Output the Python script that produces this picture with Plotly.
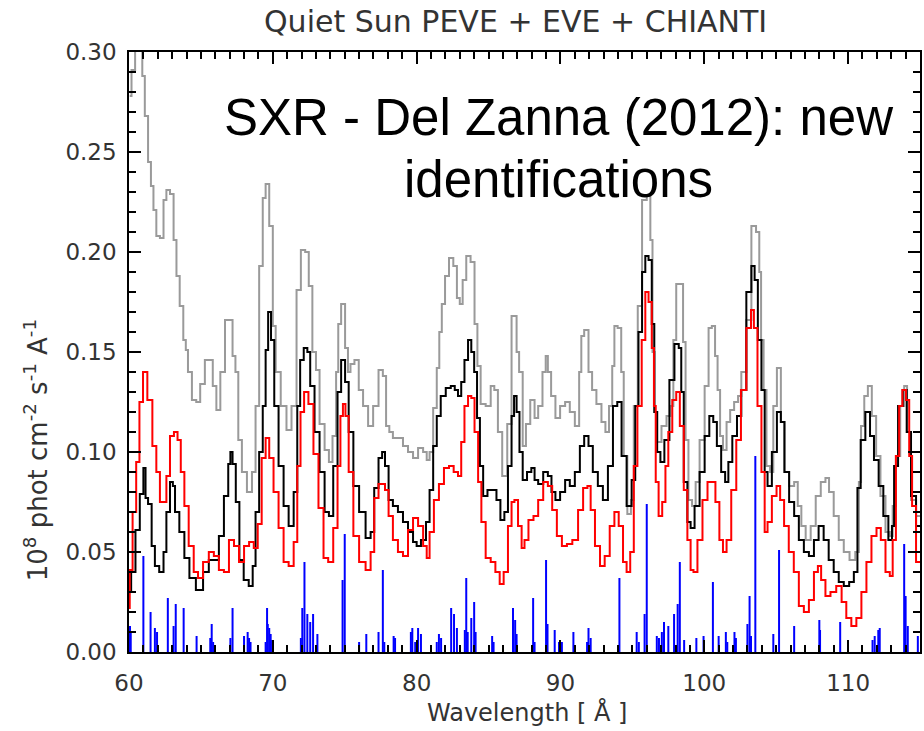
import plotly.graph_objects as go

# ---- data ----
gray_x = [60.05, 60.3, 60.55, 60.85, 61.0, 61.2, 61.45, 61.6, 61.8, 62.0, 62.3, 62.5, 62.7, 63.0, 63.2, 63.4, 63.65, 63.9,
          64.0, 64.2, 64.55, 64.8, 65.1, 65.45, 65.7, 65.95, 66.2, 66.5, 66.85, 67.1, 67.3, 67.5, 67.7, 68.0, 68.4, 68.7,
          68.9, 69.2, 69.4, 69.6, 69.9, 70.1, 70.3, 70.8, 71.1, 71.5, 71.8, 72.1, 72.4, 72.6, 72.9, 73.1, 73.4, 73.8,
          74.0, 74.3, 74.5, 74.6, 74.9, 75.15, 75.3, 75.5, 75.85, 76.1, 76.45, 76.8, 77.15, 77.55, 77.75, 78.0, 78.2,
          78.5, 78.9, 79.2, 79.6, 79.9, 80.3, 80.6, 80.8, 81.0, 81.3, 81.5, 81.65, 81.85, 82.1, 82.4, 82.7, 82.9, 83.1,
          83.3, 83.6, 83.9, 84.15, 84.3, 84.6, 85.0, 85.3, 85.5, 85.8, 86.1, 86.5, 86.7, 86.9, 87.0, 87.25, 87.5, 87.7,
          88.1, 88.3, 88.6, 88.9, 89.05, 89.2, 89.5, 89.8, 90.15, 90.5, 90.8, 91.2, 91.4, 91.5, 91.8, 92.1, 92.3, 92.7,
          93.0, 93.25, 93.5, 93.7, 93.8, 94.15, 94.3, 94.5, 94.8, 95.0, 95.2, 95.55, 95.8, 96.2, 96.3, 96.5, 96.6, 96.85,
          97.2, 97.55, 97.75, 97.95, 98.15, 98.45, 98.6, 98.8, 99.0, 99.3, 99.5, 99.85, 100.2, 100.4, 100.65, 100.85,
          101.0, 101.2, 101.4, 101.7, 101.9, 102.25, 102.45, 102.7, 103.15, 103.4, 103.8, 103.85, 104.05, 104.2, 104.45,
          104.7, 104.9, 105.2, 105.45, 105.7, 106.1, 106.4, 106.6, 106.9, 107.2, 107.6, 107.9, 108.3, 108.55, 108.8,
          109.2, 109.5, 109.9, 110.3, 110.7, 110.8, 111.0, 111.25, 111.5, 111.8, 112.1, 112.4, 112.8, 113.0, 113.2,
          113.45, 113.8, 114.0, 114.2, 114.55, 114.9, 115.0]
gray_y = [0.278, 0.291, 0.305, 0.305, 0.288, 0.268, 0.245, 0.233, 0.221, 0.208, 0.207, 0.226, 0.231, 0.229, 0.206, 0.188, 0.173, 0.156,
          0.151, 0.140, 0.126, 0.125, 0.134, 0.146, 0.146, 0.133, 0.121, 0.140, 0.166, 0.166, 0.148, 0.140, 0.106, 0.090, 0.080, 0.090,
          0.123, 0.193, 0.227, 0.234, 0.213, 0.163, 0.140, 0.123, 0.111, 0.123, 0.181, 0.201, 0.200, 0.183, 0.150, 0.141, 0.114, 0.101,
          0.095, 0.108, 0.140, 0.164, 0.174, 0.152, 0.140, 0.144, 0.146, 0.131, 0.123, 0.113, 0.123, 0.141, 0.138, 0.113, 0.110,
          0.107, 0.107, 0.103, 0.100, 0.097, 0.102, 0.100, 0.096, 0.100, 0.122, 0.142, 0.160, 0.174, 0.188, 0.197, 0.193, 0.177, 0.174,
          0.186, 0.198, 0.195, 0.164, 0.143, 0.124, 0.123, 0.133, 0.131, 0.110, 0.088, 0.114, 0.168, 0.168, 0.150, 0.140, 0.103, 0.114,
          0.126, 0.117, 0.123, 0.140, 0.148, 0.140, 0.128, 0.117, 0.123, 0.125, 0.120, 0.113, 0.140, 0.158, 0.161, 0.140, 0.131, 0.124,
          0.115, 0.110, 0.123, 0.143, 0.163, 0.162, 0.140, 0.098, 0.069, 0.076, 0.123, 0.173, 0.226, 0.228, 0.206, 0.150, 0.120, 0.105,
          0.113, 0.118, 0.123, 0.156, 0.184, 0.184, 0.155, 0.106, 0.076, 0.073, 0.085, 0.106, 0.133, 0.162, 0.163, 0.148,
          0.131, 0.108, 0.101, 0.115, 0.121, 0.125, 0.128, 0.140, 0.166, 0.213, 0.210, 0.190, 0.156, 0.131, 0.093,
          0.090, 0.123, 0.142, 0.115, 0.090, 0.083, 0.085, 0.073, 0.063, 0.056, 0.063, 0.078, 0.085, 0.087, 0.080,
          0.068, 0.056, 0.050, 0.046, 0.050, 0.085, 0.113, 0.128, 0.133, 0.118, 0.098, 0.078, 0.060, 0.058, 0.073,
          0.098, 0.123, 0.133, 0.110, 0.076, 0.068, 0.068]

black_x = [60.0, 60.3, 60.6, 60.9, 61.1, 61.2, 61.45, 61.7, 61.9, 62.3, 62.5, 62.7, 63.0, 63.1, 63.3, 63.7, 64.0, 64.4, 64.9,
           65.4, 65.7, 66.1, 66.4, 66.8, 67.0, 67.1, 67.3, 67.55, 67.8, 68.15, 68.5, 68.7, 68.9, 69.2, 69.4, 69.6, 69.75,
           70.0, 70.2, 70.6, 70.9, 71.3, 71.6, 71.8, 72.0, 72.3, 72.5, 72.7, 73.1, 73.4, 73.8, 74.0, 74.4, 74.6, 74.9,
           75.15, 75.4, 75.8, 76.2, 76.7, 76.9, 77.2, 77.5, 77.7, 77.9, 78.2, 78.5, 78.9, 79.2, 79.6, 79.9, 80.1, 80.5,
           80.8, 81.0, 81.3, 81.5, 81.85, 82.2, 82.55, 82.75, 83.0, 83.2, 83.45, 83.7, 83.9, 84.1, 84.3, 84.5, 84.75,
           85.1, 85.45, 85.65, 86.0, 86.2, 86.5, 86.7, 86.85, 87.05, 87.25, 87.5, 87.85, 88.1, 88.3, 88.6, 89.0, 89.25,
           89.5, 89.8, 90.15, 90.5, 90.8, 91.2, 91.5, 91.8, 92.1, 92.4, 92.8, 93.1, 93.5, 93.8, 94.1, 94.4, 94.8, 95.1,
           95.3, 95.55, 95.8, 96.0, 96.25, 96.45, 96.6, 96.85, 97.05, 97.4, 97.75, 98.1, 98.35, 98.45, 98.7, 98.95, 99.15,
           99.5, 99.85, 100.2, 100.5, 100.75, 101.0, 101.35, 101.55, 101.8, 102.1, 102.45, 102.7, 103.15, 103.4, 103.6,
           103.85, 104.1, 104.3, 104.5, 104.9, 105.2, 105.45, 105.7, 106.1, 106.4, 106.75, 107.1, 107.45, 107.8, 108.1,
           108.5, 108.8, 109.2, 109.5, 109.9, 110.25, 110.55, 110.75, 111.0, 111.4, 111.65, 111.95, 112.3, 112.6, 113.0,
           113.1, 113.3, 113.65, 113.95, 114.2, 114.55, 114.9, 115.0]
black_y = [0.030, 0.040, 0.061, 0.079, 0.092, 0.077, 0.074, 0.053, 0.043, 0.040, 0.050, 0.070, 0.085, 0.083, 0.070, 0.060, 0.047, 0.037, 0.031,
           0.040, 0.046, 0.046, 0.058, 0.078, 0.094, 0.100, 0.094, 0.075, 0.046, 0.036, 0.033, 0.043, 0.070, 0.100, 0.123, 0.151, 0.170,
           0.156, 0.123, 0.093, 0.073, 0.063, 0.080, 0.123, 0.146, 0.152, 0.150, 0.133, 0.110, 0.090, 0.070, 0.068, 0.093, 0.130, 0.146,
           0.135, 0.110, 0.083, 0.070, 0.057, 0.060, 0.082, 0.097, 0.100, 0.093, 0.076, 0.073, 0.070, 0.065, 0.060, 0.055, 0.053, 0.056,
           0.065, 0.081, 0.103, 0.118, 0.128, 0.132, 0.133, 0.131, 0.128, 0.135, 0.146, 0.156, 0.150, 0.140, 0.117, 0.093, 0.078,
           0.081, 0.081, 0.076, 0.066, 0.070, 0.093, 0.118, 0.128, 0.120, 0.100, 0.086, 0.090, 0.092, 0.086, 0.084, 0.090, 0.088,
           0.080, 0.076, 0.080, 0.086, 0.083, 0.090, 0.103, 0.108, 0.103, 0.090, 0.083, 0.076, 0.093, 0.123, 0.125, 0.098, 0.073, 0.086,
           0.123, 0.160, 0.190, 0.198, 0.196, 0.164, 0.120, 0.100, 0.095, 0.106, 0.136, 0.154, 0.152, 0.130, 0.085, 0.065, 0.062,
           0.073, 0.090, 0.108, 0.118, 0.115, 0.103, 0.090, 0.085, 0.095, 0.108, 0.118, 0.131, 0.180, 0.193, 0.186,
           0.156, 0.131, 0.090, 0.083, 0.100, 0.120, 0.115, 0.090, 0.075, 0.068, 0.056, 0.050, 0.048, 0.056, 0.063,
           0.056, 0.046, 0.040, 0.035, 0.033, 0.035, 0.040, 0.082, 0.106, 0.120, 0.108, 0.096, 0.083, 0.068, 0.056,
           0.063, 0.093, 0.123, 0.131, 0.110, 0.078, 0.063, 0.063]

red_x = [60.0, 60.1, 60.4, 60.6, 60.85, 61.1, 61.45, 61.8, 62.0, 62.3, 62.5, 62.7, 63.0, 63.25, 63.5, 63.7, 64.0, 64.3, 64.7,
         64.9, 65.4, 65.7, 66.1, 66.4, 66.8, 67.1, 67.5, 67.8, 68.2, 68.5, 68.85, 69.05, 69.4, 69.6, 69.9, 70.2, 70.6,
         70.9, 71.3, 71.6, 71.8, 72.05, 72.3, 72.65, 73.0, 73.35, 73.7, 74.0, 74.4, 74.6, 74.8, 74.95, 75.15, 75.4, 75.8,
         76.2, 76.7, 76.9, 77.2, 77.5, 77.7, 77.9, 78.2, 78.5, 78.9, 79.2, 79.6, 79.9, 80.3, 80.6, 80.8, 81.0, 81.4, 81.7,
         82.1, 82.4, 82.75, 83.0, 83.2, 83.45, 83.7, 83.9, 84.15, 84.4, 84.6, 85.0, 85.3, 85.65, 85.9, 86.2, 86.5, 86.7,
         86.9, 87.2, 87.4, 87.6, 87.95, 88.3, 88.6, 89.0, 89.25, 89.6, 89.9, 90.3, 90.6, 91.05, 91.4, 91.75, 92.0, 92.2,
         92.6, 92.9, 93.25, 93.6, 93.9, 94.2, 94.5, 94.7, 95.0, 95.2, 95.5, 95.8, 96.0, 96.25, 96.45, 96.55, 96.7, 96.95,
         97.2, 97.4, 97.6, 97.95, 98.15, 98.45, 98.7, 98.95, 99.15, 99.35, 99.7, 100.05, 100.4, 100.65, 100.9, 101.2,
         101.4, 101.7, 102.05, 102.4, 102.7, 103.15, 103.35, 103.55, 103.85, 104.1, 104.3, 104.5, 104.9, 105.15, 105.4,
         105.7, 106.05, 106.4, 106.75, 107.1, 107.45, 107.8, 108.0, 108.25, 108.6, 108.95, 109.4, 109.7, 110.05, 110.4,
         110.75, 111.1, 111.45, 111.8, 112.15, 112.4, 112.8, 113.0, 113.2, 113.45, 113.65, 113.9, 114.15, 114.35, 114.55,
         114.9, 115.0]
red_y = [0.022, 0.041, 0.070, 0.095, 0.125, 0.140, 0.126, 0.103, 0.090, 0.075, 0.075, 0.088, 0.108, 0.110, 0.106, 0.090, 0.073, 0.053, 0.040,
         0.037, 0.045, 0.050, 0.048, 0.041, 0.040, 0.056, 0.053, 0.045, 0.053, 0.055, 0.052, 0.064, 0.097, 0.107, 0.097, 0.080, 0.062,
         0.045, 0.043, 0.055, 0.093, 0.120, 0.130, 0.124, 0.099, 0.072, 0.047, 0.045, 0.062, 0.093, 0.118, 0.124, 0.118, 0.090, 0.058,
         0.045, 0.041, 0.050, 0.077, 0.084, 0.084, 0.081, 0.068, 0.056, 0.050, 0.048, 0.061, 0.067, 0.063, 0.053, 0.047, 0.060, 0.076, 0.084,
         0.092, 0.093, 0.090, 0.088, 0.105, 0.123, 0.128, 0.127, 0.110, 0.085, 0.065, 0.047, 0.045, 0.040, 0.034, 0.040, 0.063, 0.075,
         0.076, 0.063, 0.052, 0.056, 0.066, 0.068, 0.076, 0.085, 0.083, 0.071, 0.058, 0.053, 0.054, 0.056, 0.071, 0.082, 0.083, 0.071,
         0.053, 0.043, 0.048, 0.063, 0.070, 0.063, 0.045, 0.040, 0.050, 0.093, 0.123, 0.156, 0.180, 0.175, 0.152, 0.123, 0.085, 0.068,
         0.075, 0.093, 0.110, 0.126, 0.130, 0.113, 0.081, 0.056, 0.041, 0.040, 0.056, 0.076, 0.085, 0.085, 0.075, 0.056,
         0.050, 0.056, 0.081, 0.106, 0.131, 0.162, 0.171, 0.162, 0.123, 0.090, 0.060, 0.065, 0.078, 0.083, 0.076,
         0.063, 0.050, 0.040, 0.023, 0.020, 0.026, 0.040, 0.043, 0.036, 0.028, 0.030, 0.033, 0.025, 0.017, 0.013,
         0.017, 0.030, 0.045, 0.058, 0.062, 0.056, 0.040, 0.038, 0.056, 0.098, 0.123, 0.131, 0.126, 0.098, 0.073,
         0.045, 0.045]

line_x = [60.07, 60.12, 61.0, 61.5, 61.8, 61.95, 62.7, 63.1, 63.25, 63.8, 64.7, 65.65, 65.75, 65.85, 67.05, 67.2, 68.0, 68.25,
          68.35, 68.45, 69.5, 69.6, 69.65, 69.75, 69.85, 69.95, 71.95, 72.05, 72.2, 72.4, 72.6, 72.8, 73.1, 74.85, 75.0,
          76.0, 76.5, 77.35, 77.65, 77.75, 78.4, 78.5, 79.6, 79.7, 79.9, 80.1, 80.3, 81.4, 81.55, 81.7, 82.4, 82.6, 82.8,
          83.35, 83.45, 83.55, 83.8, 84.0, 84.1, 85.25, 85.35, 86.7, 86.85, 86.95, 88.1, 88.2, 89.0, 89.1, 89.6, 89.9,
          90.1, 90.9, 91.85, 91.95, 92.1, 94.1, 95.3, 95.45, 95.85, 96.0, 96.7, 96.85, 97.05, 97.2, 97.5, 97.9, 98.15,
          98.3, 98.6, 99.45, 99.95, 100.6, 101.0, 101.5, 101.6, 102.1, 102.2, 103.0, 103.15, 103.25, 103.55, 104.8,
          105.2, 106.25, 108.0, 108.05, 109.45, 111.7, 111.85, 112.1, 112.2, 113.9, 114.0, 114.15, 114.85]
line_y = [0.013, 0.010, 0.048, 0.020, 0.012, 0.010, 0.027, 0.013, 0.024, 0.022, 0.008, 0.007, 0.014, 0.005, 0.007, 0.022, 0.008, 0.010,
          0.007, 0.005, 0.005, 0.022, 0.014, 0.012, 0.009, 0.006, 0.007, 0.022, 0.045, 0.019, 0.015, 0.019, 0.009, 0.036, 0.059,
          0.005, 0.009, 0.010, 0.041, 0.005, 0.008, 0.007, 0.010, 0.012, 0.005, 0.012, 0.009, 0.005, 0.009, 0.007, 0.022, 0.019, 0.012,
          0.011, 0.037, 0.010, 0.017, 0.025, 0.010, 0.008, 0.005, 0.022, 0.016, 0.009, 0.027, 0.005, 0.046, 0.014, 0.011, 0.005,
          0.005, 0.010, 0.005, 0.012, 0.007, 0.037, 0.010, 0.005, 0.019, 0.074, 0.008, 0.007, 0.010, 0.015, 0.013, 0.019, 0.024,
          0.045, 0.006, 0.007, 0.008, 0.035, 0.008, 0.010, 0.005, 0.010, 0.007, 0.014, 0.028, 0.008, 0.098, 0.009,
          0.051, 0.013, 0.016, 0.011, 0.015, 0.006, 0.008, 0.011, 0.012, 0.054, 0.028, 0.013, 0.008]

x_ticks = [60, 70, 80, 90, 100, 110]
y_ticks = [0.00, 0.05, 0.10, 0.15, 0.20, 0.25, 0.30]

title_text = "Quiet Sun PEVE + EVE + CHIANTI"
note_line1 = "SXR - Del Zanna (2012): new"
note_line2 = "identifications"
x_title = "Wavelength [ Å ]"
y_title = "10<sup>8</sup> phot cm<sup>-2</sup> s<sup>-1</sup> A<sup>-1</sup>"

# ---- figure ----
fig = go.Figure()
fig.add_trace(go.Scatter(x=gray_x, y=gray_y, mode="lines",
                         line=dict(color="#9a9a9a", width=2, shape="hvh"), hoverinfo="skip"))
fig.add_trace(go.Scatter(x=black_x, y=black_y, mode="lines",
                         line=dict(color="#000000", width=2, shape="hvh"), hoverinfo="skip"))
fig.add_trace(go.Scatter(x=red_x, y=red_y, mode="lines",
                         line=dict(color="#ff0000", width=2, shape="hvh"), hoverinfo="skip"))

sx, sy = [], []
for lam, val in zip(line_x, line_y):
    sx += [lam, lam, None]
    sy += [0, val, None]
fig.add_trace(go.Scatter(x=sx, y=sy, mode="lines",
                         line=dict(color="#0000ff", width=2), hoverinfo="skip"))

tick_font = dict(family="DejaVu Sans", size=23, color="#333333")

fig.update_layout(
    width=924, height=731,
    margin=dict(l=129, r=2, t=52, b=79),
    paper_bgcolor="white", plot_bgcolor="white",
    showlegend=False,
    xaxis=dict(range=[60, 115], tickvals=x_ticks, ticktext=[str(t) for t in x_ticks],
               showline=True, linecolor="black", linewidth=1.5, mirror="ticks",
               ticks="inside", ticklen=12, tickwidth=1.5, tickcolor="black",
               minor=dict(dtick=1, tick0=60, ticks="inside", ticklen=7, tickwidth=1.5, tickcolor="black"),
               showgrid=False, zeroline=False, tickfont=tick_font, ticklabelstandoff=10),
    yaxis=dict(range=[0, 0.30], tickvals=y_ticks, ticktext=["%.2f" % t for t in y_ticks],
               showline=True, linecolor="black", linewidth=1.5, mirror="ticks",
               ticks="inside", ticklen=12, tickwidth=1.5, tickcolor="black",
               minor=dict(dtick=0.01, tick0=0, ticks="inside", ticklen=7, tickwidth=1.5, tickcolor="black"),
               showgrid=False, zeroline=False, tickfont=tick_font, ticklabelstandoff=6),
)

fig.add_annotation(text=title_text, xref="paper", yref="paper", x=0.488, y=(652 - 22) / 600,
                   xanchor="center", yanchor="middle", showarrow=False,
                   font=dict(family="DejaVu Sans", size=30, color="#333333"))
fig.add_annotation(text=x_title, xref="paper", yref="paper", x=(528 - 129) / 793, y=(652 - 712) / 600,
                   xanchor="center", yanchor="middle", showarrow=False,
                   font=dict(family="DejaVu Sans", size=24, color="#333333"))
fig.add_annotation(text=y_title, xref="paper", yref="paper", x=(36 - 129) / 793, y=(652 - 450) / 600,
                   xanchor="center", yanchor="middle", showarrow=False, textangle=-90,
                   font=dict(family="DejaVu Sans", size=26, color="#333333"))
fig.add_annotation(text=note_line1, xref="paper", yref="paper", x=(560 - 129) / 793, y=(652 - 118) / 600,
                   xanchor="center", yanchor="middle", showarrow=False,
                   font=dict(family="Liberation Sans", size=51, color="black"))
fig.add_annotation(text=note_line2, xref="paper", yref="paper", x=(560 - 129) / 793, y=(652 - 179) / 600,
                   xanchor="center", yanchor="middle", showarrow=False,
                   font=dict(family="Liberation Sans", size=51, color="black"))

fig.write_html("out.html")
